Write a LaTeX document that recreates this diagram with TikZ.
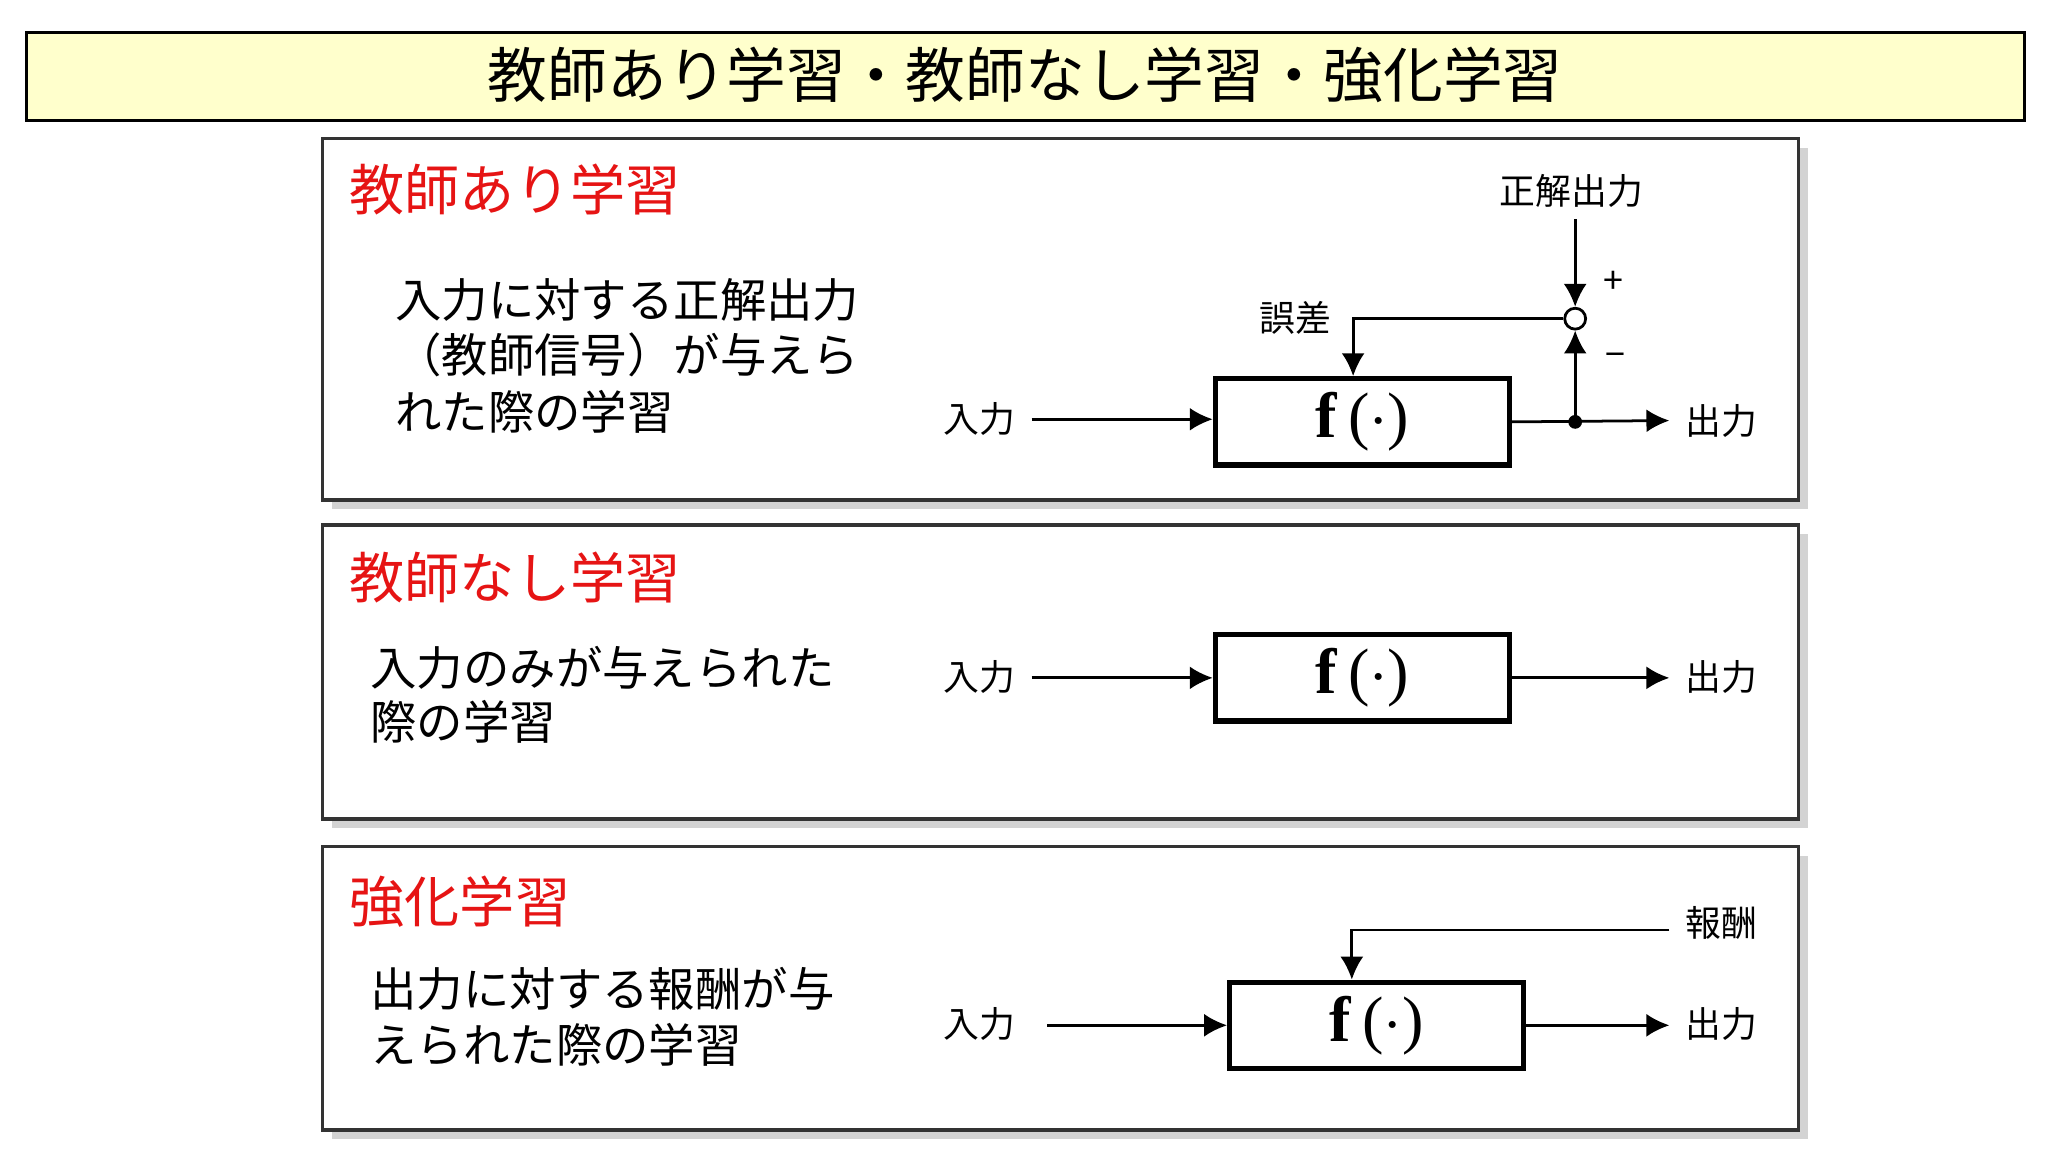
\documentclass[tikz,border=0pt]{standalone}
\usepackage{fontspec}
\setmainfont{Noto Sans CJK JP}
\newfontfamily\fserif{Liberation Serif}
\usetikzlibrary{arrows.meta,shadows}
\definecolor{titlefill}{RGB}{255,255,204}
\definecolor{headred}{RGB}{230,20,20}
\tikzset{
  panel/.style={draw=black!80,line width=0.8pt,fill=white,drop shadow={shadow xshift=2pt,shadow yshift=-2pt,opacity=0.35}},
  fbox/.style={draw,line width=1.1pt,inner sep=0pt,minimum width=2.25cm,minimum height=0.66cm,font=\fserif\fontsize{14}{14}\selectfont},
  head/.style={anchor=west,inner sep=0pt,text=headred,font=\fontsize{12}{12}\selectfont},
  body/.style={anchor=west,inner sep=0pt,font=\fontsize{10.1}{12}\selectfont},
  lbl/.style={font=\fontsize{7.8}{9}\selectfont},
  sig/.style={-{Latex[length=5pt,width=5pt]},line width=0.6pt}
}
\newcommand\fdot{\textbf{f}\,(${\cdot}$)}
\begin{document}
\begin{tikzpicture}[x=0.01cm,y=-0.01cm]
    \useasboundingbox (0,0) rectangle (1568,882);

    % title
    \draw[fill=titlefill,line width=0.7pt] (20,25) rectangle (1550,92);
    \node[font=\fontsize{13}{14}\selectfont] (title) at (785,57) {教師あり学習・教師なし学習・強化学習};

    \draw[panel] (247,106) rectangle (1377,383);
    \draw[panel] (247,402) rectangle (1377,627);
    \draw[panel] (247,648) rectangle (1377,865);

    % supervised
    \node[head] (h1) at (267,145) {教師あり学習};
    \node[body] at (302,230) {入力に対する正解出力};
    \node[body] at (302,272) {（教師信号）が与えら};
    \node[body] at (302,315) {れた際の学習};
    \node[fbox] (f1) at (1043,323) {\fdot};
    \node[lbl] (in1) at (750,321) {入力};
    \node[lbl] (out1) at (1318,322) {出力};
    \coordinate (dot1) at (1206,323);
    \node[draw,circle,inner sep=0pt,minimum size=0.16cm,line width=0.6pt] (sum) at (1206,244) {};
    \node[lbl] (ans) at (1203,146) {正解出力};
    \coordinate (anstop) at (1206,168);
    \node[lbl] (err) at (992,243) {誤差};
    \node[lbl] at (1235,216) {+};
    \node[lbl] at (1237,276) {−};
    \draw[sig] (in1.east) -- (f1.west |- in1.east);
    \draw[sig] (f1.east) -- (out1.west);
    \fill (dot1) circle (1.5pt);
    \draw[sig] (anstop) -- (sum.north);
    \draw[sig] (dot1) -- (sum.south);
    \draw[sig] (sum.west) -| (f1.north -| 1036,0);

    % unsupervised
    \node[head] (h2) at (267,442) {教師なし学習};
    \node[body] at (283,511) {入力のみが与えられた};
    \node[body] at (283,553) {際の学習};
    \node[fbox] (f2) at (1043,519) {\fdot};
    \node[lbl] (in2) at (750,518) {入力};
    \node[lbl] (out2) at (1318,518) {出力};
    \draw[sig] (in2.east |- f2) -- (f2.west);
    \draw[sig] (f2.east) -- (out2.west |- f2);

    % reinforcement
    \node[head] (h3) at (267,690) {強化学習};
    \node[body] at (283,757) {出力に対する報酬が与};
    \node[body] at (283,800) {えられた際の学習};
    \node[fbox] (f3) at (1054,785) {\fdot};
    \node[lbl] (in3) at (750,784) {入力};
    \node[lbl] (out3) at (1318,784) {出力};
    \node[lbl] (rew) at (1318,707) {報酬};
    \draw[sig] (in3.east |- f3) ++(12,0) -- (f3.west);
    \draw[sig] (f3.east) -- (out3.west |- f3);
    \draw[sig] (rew.west |- 0,712) -| (f3.north -| 1035,0);
\end{tikzpicture}
\end{document}
